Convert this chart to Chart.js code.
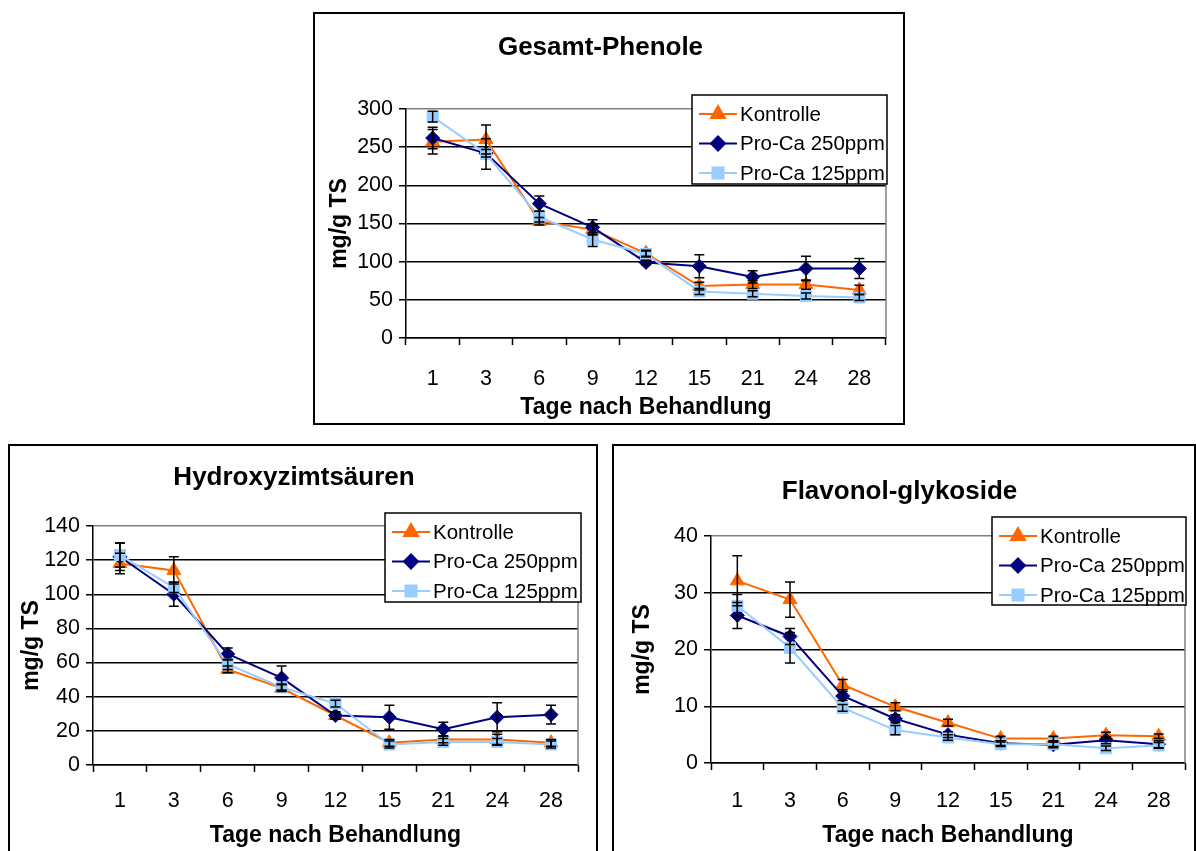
<!DOCTYPE html>
<html>
<head>
<meta charset="utf-8">
<script src="https://cdn.jsdelivr.net/npm/chart.js@4.4.0/dist/chart.umd.min.js"></script>
<style>
  html, body { margin: 0; padding: 0; background: #fff; width: 1196px; height: 851px; overflow: hidden; position: relative; }
  .panel { position: absolute; box-sizing: border-box; border: 2px solid #000; background: #fff; overflow: hidden; }
  .panel canvas { position: absolute; left: 0; top: 0; }
</style>
</head>
<body>
<div class="panel" style="left:313px; top:12px; width:592px; height:413px;"><canvas id="cPhenole" width="588" height="409"></canvas></div>
<div class="panel" style="left:8px; top:444px; width:590px; height:420px;"><canvas id="cHydroxy" width="586" height="405"></canvas></div>
<div class="panel" style="left:612px; top:444px; width:584px; height:420px;"><canvas id="cFlavonol" width="580" height="405"></canvas></div>

<script>
// Sampling days after treatment (category axis)
const days = ['1', '3', '6', '9', '12', '15', '21', '24', '28'];
const seriesNames = ['Kontrolle', 'Pro-Ca 250ppm', 'Pro-Ca 125ppm'];

// Gesamt-Phenole (mg/g TS), means and error-bar half widths
const phenoleKontrolle    = [257, 260, 153, 142, 111, 68, 70, 70, 63];
const phenoleKontrolleErr = [16, 19, 5, 6, 4, 5, 5, 6, 6];
const phenole250          = [262, 242, 176, 145, 99, 94, 80, 91, 91];
const phenole250Err       = [14, 5, 10, 10, 3, 15, 8, 16, 13];
const phenole125          = [290, 241, 159, 129, 110, 61, 58, 55, 53];
const phenole125Err       = [7, 20, 7, 9, 4, 4, 4, 4, 4];

// Hydroxyzimtsäuren (mg/g TS)
const hydroKontrolle    = [118, 114, 56, 45, 29, 13, 15, 15, 13];
const hydroKontrolleErr = [6, 8, 2, 2, 2, 2, 2, 3, 2];
const hydro250          = [122, 100, 65, 51, 29, 28, 21, 28, 29.5];
const hydro250Err       = [8, 7, 3.5, 7, 2, 7, 4, 8.5, 5.5];
const hydro125          = [123, 104, 59, 45.5, 36, 12, 13.5, 13.5, 12];
const hydro125Err       = [7, 3, 3, 2, 2, 2, 2, 2, 2];

// Flavonol-glykoside (mg/g TS)
const flavKontrolle    = [32.1, 28.8, 13.8, 9.9, 7.1, 4.3, 4.3, 4.9, 4.7];
const flavKontrolleErr = [4.4, 3.1, 0.9, 0.7, 0.6, 0.4, 0.4, 0.5, 0.4];
const flav250          = [26.0, 22.3, 11.8, 7.8, 5.0, 3.5, 3.2, 4.0, 3.3];
const flav250Err       = [2.3, 1.4, 0.8, 0.7, 0.5, 0.4, 0.5, 0.6, 0.6];
const flav125          = [27.7, 20.3, 9.7, 5.8, 4.5, 3.3, 3.3, 2.6, 3.1];
const flav125Err       = [2.0, 2.7, 0.6, 0.8, 0.5, 0.4, 0.4, 0.4, 0.5];

// Axis ranges
const phenoleAxis = { max: 300, step: 50 };
const hydroAxis   = { max: 140, step: 20 };
const flavAxis    = { max: 40,  step: 10 };

const FONT = "'Liberation Sans', Arial, Helvetica, sans-serif";
Chart.defaults.font.family = FONT;
Chart.defaults.color = '#000';

const TITLE_SIZE = 26, AXIS_TITLE_SIZE = 23, TICK_SIZE = 21.5, LEGEND_SIZE = 20.5;

const seriesStyle = [
  { color: '#FF6600', pointStyle: 'triangle', radius: 8,   order: 3 },
  { color: '#000080', pointStyle: 'rectRot',  radius: 7,   order: 2 },
  { color: '#99CCFF', pointStyle: 'rect',     radius: 7.8, order: 1 }
];

// Vertical error bars with caps, computed through the y scale
const errorBarPlugin = {
  id: 'errorBars',
  afterDatasetsDraw(chart) {
    const ctx = chart.ctx;
    const yScale = chart.scales.y;
    ctx.save();
    ctx.strokeStyle = '#000';
    ctx.lineWidth = 1.5;
    chart.data.datasets.forEach((ds, i) => {
      if (!ds.errors) return;
      const meta = chart.getDatasetMeta(i);
      meta.data.forEach((pt, j) => {
        const v = ds.data[j], e = ds.errors[j];
        const yTop = yScale.getPixelForValue(v + e);
        const yBot = yScale.getPixelForValue(v - e);
        const x = pt.x;
        ctx.beginPath();
        ctx.moveTo(x, yTop); ctx.lineTo(x, yBot);
        ctx.moveTo(x - 5, yTop); ctx.lineTo(x + 5, yTop);
        ctx.moveTo(x - 5, yBot); ctx.lineTo(x + 5, yBot);
        ctx.stroke();
      });
    });
    ctx.restore();
  }
};

// Grey frame line on the right edge of the plot area
const plotFramePlugin = {
  id: 'plotFrame',
  beforeDatasetsDraw(chart) {
    const { right, top, bottom } = chart.chartArea;
    const ctx = chart.ctx;
    ctx.save();
    ctx.strokeStyle = '#808080';
    ctx.lineWidth = 1.5;
    ctx.beginPath();
    ctx.moveTo(right, top);
    ctx.lineTo(right, bottom);
    ctx.stroke();
    ctx.restore();
  }
};

// Boxed legend with line + marker samples
const boxLegendPlugin = {
  id: 'boxLegend',
  afterDraw(chart, args, opts) {
    const ctx = chart.ctx;
    const { x, y, w, h } = opts;
    ctx.save();
    ctx.fillStyle = '#fff';
    ctx.fillRect(x, y, w, h);
    ctx.strokeStyle = '#000';
    ctx.lineWidth = 1.5;
    ctx.strokeRect(x, y, w, h);
    ctx.font = LEGEND_SIZE + 'px ' + FONT;
    ctx.textBaseline = 'middle';
    ctx.textAlign = 'left';
    chart.data.datasets.forEach((ds, i) => {
      const cy = y + opts.rowTop + i * opts.rowGap;
      ctx.strokeStyle = ds.borderColor;
      ctx.lineWidth = 2;
      ctx.beginPath();
      ctx.moveTo(x + 7, cy);
      ctx.lineTo(x + 45, cy);
      ctx.stroke();
      ctx.fillStyle = ds.pointBackgroundColor;
      ctx.strokeStyle = ds.pointBorderColor;
      Chart.helpers.drawPoint(ctx, { pointStyle: ds.pointStyle, radius: ds.pointRadius, borderWidth: 1, rotation: 0 }, x + 26, cy);
      ctx.fillStyle = '#000';
      ctx.fillText(ds.label, x + 48, cy + 1);
    });
    ctx.restore();
  }
};

function makeChart(id, title, values, errors, axis, geo) {
  const canvas = document.getElementById(id);
  const W = canvas.width, H = canvas.height;
  const tickHalf = TICK_SIZE * 1.2 / 2;
  const axisTitleHalf = AXIS_TITLE_SIZE * 1.2 / 2;
  const titleHalf = TITLE_SIZE * 1.2 / 2;
  const datasets = values.map((vals, i) => ({
    label: seriesNames[i],
    data: vals,
    errors: errors[i],
    borderColor: seriesStyle[i].color,
    backgroundColor: seriesStyle[i].color,
    pointBackgroundColor: seriesStyle[i].color,
    pointBorderColor: seriesStyle[i].color,
    pointStyle: seriesStyle[i].pointStyle,
    pointRadius: seriesStyle[i].radius,
    pointBorderWidth: 1,
    borderWidth: 2,
    tension: 0,
    order: seriesStyle[i].order
  }));
  return new Chart(canvas, {
    type: 'line',
    data: { labels: days, datasets },
    plugins: [plotFramePlugin, errorBarPlugin, boxLegendPlugin],
    options: {
      responsive: false,
      animation: false,
      devicePixelRatio: 1,
      layout: { padding: { left: 0, right: W - geo.r, top: 0, bottom: 0 } },
      plugins: {
        legend: { display: false },
        tooltip: { enabled: false },
        title: {
          display: true,
          text: title,
          color: '#000',
          font: { size: TITLE_SIZE, weight: 'bold', lineHeight: 1.2 },
          padding: { top: geo.titleY - titleHalf, bottom: geo.t - (geo.titleY + titleHalf) }
        },
        boxLegend: geo.legend
      },
      scales: {
        x: {
          type: 'category',
          offset: true,
          grid: { display: true, offset: true, drawOnChartArea: false, drawTicks: true, tickLength: 7, tickColor: '#000', tickWidth: 1.5 },
          border: { display: true, color: '#000', width: 1.5 },
          ticks: { font: { size: TICK_SIZE }, color: '#000', padding: geo.xLabelY - geo.b - 7 - tickHalf, maxRotation: 0, autoSkip: false },
          title: {
            display: true,
            text: 'Tage nach Behandlung',
            color: '#000',
            font: { size: AXIS_TITLE_SIZE, weight: 'bold', lineHeight: 1.2 },
            padding: { top: 0, bottom: H - geo.xTitleY - axisTitleHalf }
          },
          afterFit(scale) { scale.height = H - geo.b; }
        },
        y: {
          min: 0,
          max: axis.max,
          ticks: { stepSize: axis.step, font: { size: TICK_SIZE }, color: '#000', padding: 6 },
          grid: {
            color: (c) => (c.tick && c.tick.value === axis.max) ? '#808080' : '#000',
            lineWidth: 1.5,
            drawTicks: true,
            tickLength: 7,
            tickColor: '#000',
            tickWidth: 1.5
          },
          border: { display: true, color: '#000', width: 1.5 },
          title: {
            display: true,
            text: 'mg/g TS',
            color: '#000',
            font: { size: AXIS_TITLE_SIZE, weight: 'bold', lineHeight: 1.2 },
            padding: { top: geo.yTitleX - axisTitleHalf, bottom: 0 }
          },
          afterFit(scale) { scale.width = geo.l; }
        }
      }
    }
  });
}

makeChart('cPhenole', 'Gesamt-Phenole',
  [phenoleKontrolle, phenole250, phenole125],
  [phenoleKontrolleErr, phenole250Err, phenole125Err],
  phenoleAxis,
  { l: 91, r: 571, t: 95, b: 324, titleY: 34, yTitleX: 25, xLabelY: 365, xTitleY: 394,
    legend: { x: 377, y: 81, w: 195, h: 89, rowTop: 19, rowGap: 29.5 } });

makeChart('cHydroxy', 'Hydroxyzimtsäuren',
  [hydroKontrolle, hydro250, hydro125],
  [hydroKontrolleErr, hydro250Err, hydro125Err],
  hydroAxis,
  { l: 83, r: 568, t: 80, b: 319, titleY: 32, yTitleX: 22, xLabelY: 355, xTitleY: 390,
    legend: { x: 375, y: 67, w: 196, h: 89, rowTop: 19, rowGap: 29.5 } });

makeChart('cFlavonol', 'Flavonol-glykoside',
  [flavKontrolle, flav250, flav125],
  [flavKontrolleErr, flav250Err, flav125Err],
  flavAxis,
  { l: 97, r: 571, t: 90, b: 317, titleY: 46, yTitleX: 29, xLabelY: 355, xTitleY: 390,
    legend: { x: 378, y: 71, w: 194, h: 88, rowTop: 19, rowGap: 29.5 } });
</script>
</body>
</html>
